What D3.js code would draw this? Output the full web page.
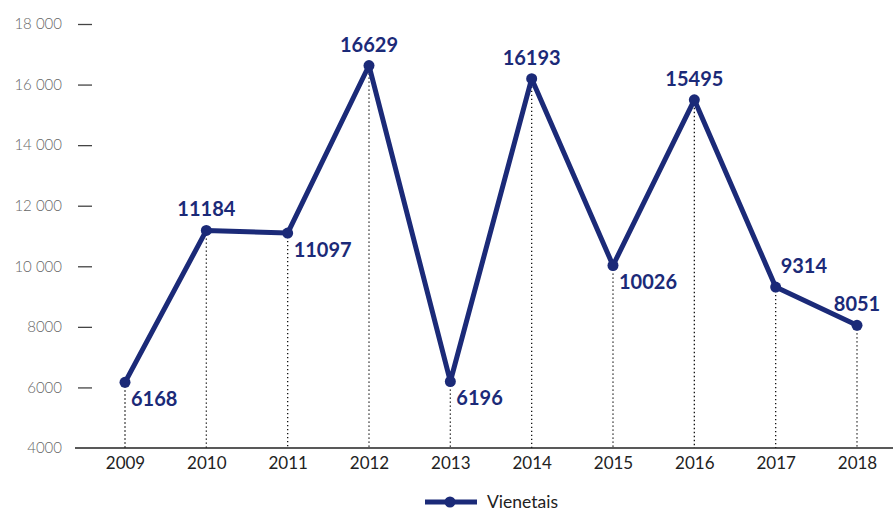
<!DOCTYPE html>
<html><head><meta charset="utf-8">
<script src="https://cdn.jsdelivr.net/npm/d3@7"></script>
<style>body{margin:0;background:#fff;}svg{display:block;}</style>
</head><body>
<svg id="c" width="893" height="512"></svg>
<script>
const years = ["2009","2010","2011","2012","2013","2014","2015","2016","2017","2018"];
const values = [6168,11184,11097,16629,6196,16193,10026,15495,9314,8051];
const yTicks = [4000,6000,8000,10000,12000,14000,16000,18000];
const tickLabels = ["4000","6000","8000","10 000","12 000","14 000","16 000","18 000"];
const seriesName = "Vienetais";
// label placement: a = above, b = below-right, ar = above-right
const labelPos = ["b","a","b","a","b","a","b","a","ar","a"];

const navy = "#1b2a78";
const svg = d3.select("#c");
const x = d3.scalePoint().domain(years).range([125, 857]);
const y = d3.scaleLinear().domain([4000, 18000]).range([448, 24]);

// y axis ticks
const yAxis = d3.axisLeft(y).tickValues(yTicks)
  .tickFormat((d,i)=>tickLabels[i]).tickSize(14).tickPadding(16);
const gy = svg.append("g").attr("transform","translate(92,0)").call(yAxis);
gy.select(".domain").remove();
gy.selectAll(".tick line").attr("stroke","#444").attr("stroke-width",1.3);
gy.selectAll(".tick text").attr("fill","#666").attr("font-family","Lato, sans-serif")
  .attr("font-size",15).attr("font-weight",300);
gy.selectAll(".tick").filter(d=>d===4000).select("line").remove();

// dotted verticals
svg.append("g").selectAll("line").data(years).join("line")
  .attr("x1",d=>x(d)).attr("x2",d=>x(d))
  .attr("y1",(d,i)=>y(values[i])).attr("y2",448)
  .attr("stroke","#111").attr("stroke-width",1.3).attr("stroke-dasharray","1.3,2.7");

// x axis
const xAxis = d3.axisBottom(x).tickSize(0).tickPadding(9);
const gx = svg.append("g").attr("transform","translate(0,448)").call(xAxis);
gx.select(".domain").remove();
gx.append("line").attr("x1",75).attr("x2",893).attr("y1",0).attr("y2",0)
  .attr("stroke","#222").attr("stroke-width",1.5);
gx.selectAll(".tick text").attr("fill","#222").attr("font-family","Lato, sans-serif")
  .attr("font-size",17);

// line
const line = d3.line().x((d,i)=>x(years[i])).y(d=>y(d));
svg.append("path").datum(values).attr("d",line).attr("fill","none")
  .attr("stroke",navy).attr("stroke-width",5).attr("stroke-linejoin","round");
svg.append("g").selectAll("circle").data(values).join("circle")
  .attr("cx",(d,i)=>x(years[i])).attr("cy",d=>y(d)).attr("r",5.5).attr("fill",navy);

// labels
svg.append("g").selectAll("text").data(values).join("text")
  .attr("x",(d,i)=>{const p=labelPos[i];const cx=x(years[i]);
     return p==="a"?cx:p==="b"?cx+6:cx+5;})
  .attr("y",(d,i)=>{const p=labelPos[i];const cy=y(d);
     return p==="a"?cy-14:p==="b"?cy+24:cy-14;})
  .attr("text-anchor",(d,i)=>labelPos[i]==="a"?"middle":"start")
  .attr("fill",navy).attr("font-family","Lato, sans-serif").attr("font-weight",700)
  .attr("font-size",20).text(d=>d);

// legend
const lg = svg.append("g");
lg.append("line").attr("x1",425).attr("x2",477).attr("y1",502).attr("y2",502)
  .attr("stroke",navy).attr("stroke-width",5);
lg.append("circle").attr("cx",450).attr("cy",502).attr("r",5.5).attr("fill",navy);
lg.append("text").attr("x",487).attr("y",508).attr("fill","#222")
  .attr("font-family","Lato, sans-serif").attr("font-size",17.5).text(seriesName);
</script>
</body></html>
